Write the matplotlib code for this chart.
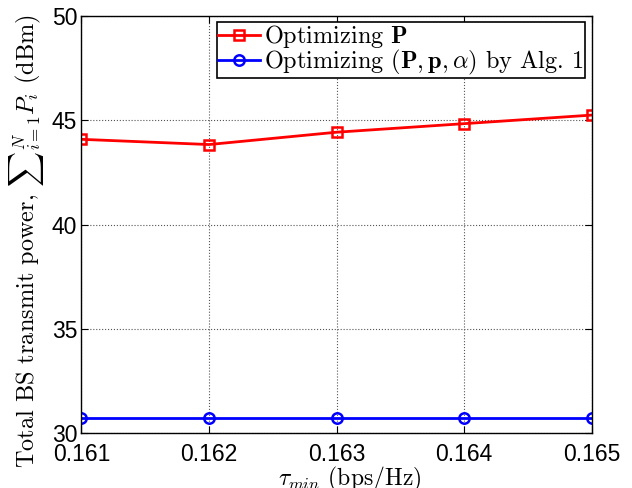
import matplotlib
matplotlib.use("Agg")
import matplotlib.pyplot as plt

tau_min = [0.161, 0.162, 0.163, 0.164, 0.165]
power_opt_P = [44.08, 43.83, 44.42, 44.83, 45.24]
power_alg1 = [30.73, 30.73, 30.73, 30.73, 30.73]
xtick_labels = ["0.161", "0.162", "0.163", "0.164", "0.165"]
yticks = [30, 35, 40, 45, 50]

plt.rcParams['mathtext.fontset'] = 'cm'
plt.rcParams['axes.unicode_minus'] = False

fig = plt.figure(figsize=(6.32, 4.88), dpi=100)
ax = fig.add_axes([0.1287, 0.1121, 0.8075, 0.8557])

ax.plot(tau_min, power_opt_P, color='red', lw=2.0, marker='s', ms=7.5,
        mfc='none', mew=1.8, label=r'Optimizing $\mathbf{P}$')
ax.plot(tau_min, power_alg1, color='blue', lw=2.0, marker='o', ms=7.5,
        mfc='none', mew=1.8, label=r'Optimizing $(\mathbf{P},\mathbf{p},\alpha)$ by Alg. 1')

ax.set_xlim(0.161, 0.165)
ax.set_ylim(30, 50)
ax.set_xticks(tau_min)
ax.set_xticklabels(xtick_labels)
ax.set_yticks(yticks)
for lbl in ax.get_xticklabels() + ax.get_yticklabels():
    lbl.set_fontfamily('Liberation Sans')
    lbl.set_fontsize(16.5)
ax.tick_params(direction='in', top=True, right=True, length=5, width=0.8)
ax.tick_params(axis='x', pad=7)
ax.tick_params(axis='y', pad=3)
ax.grid(True, linestyle=':', color='#555555', lw=0.8)
for s in ax.spines.values():
    s.set_linewidth(1.0)

ax.set_xlabel(r'$\tau_{min}$ (bps/Hz)', fontfamily='cmr10', fontsize=17, labelpad=-1)
ax.xaxis.label.set_x(0.526)
ax.set_ylabel(r'Total BS transmit power, ${\sum}_{i=1}^{N} P_i$ (dBm)', fontfamily='cmr10',
              fontsize=17.5, labelpad=4)
ax.yaxis.label.set_y(0.46)

leg = ax.legend(loc='upper right', bbox_to_anchor=(0.987, 0.985), prop={'family': 'cmr10', 'size': 17.5},
                fancybox=False, edgecolor='black', framealpha=1, borderpad=0.05,
                handlelength=1.75, handletextpad=0.15, labelspacing=-0.1, borderaxespad=0.0)
leg.get_frame().set_linewidth(1.2)

fig.savefig('out.png', dpi=100)
